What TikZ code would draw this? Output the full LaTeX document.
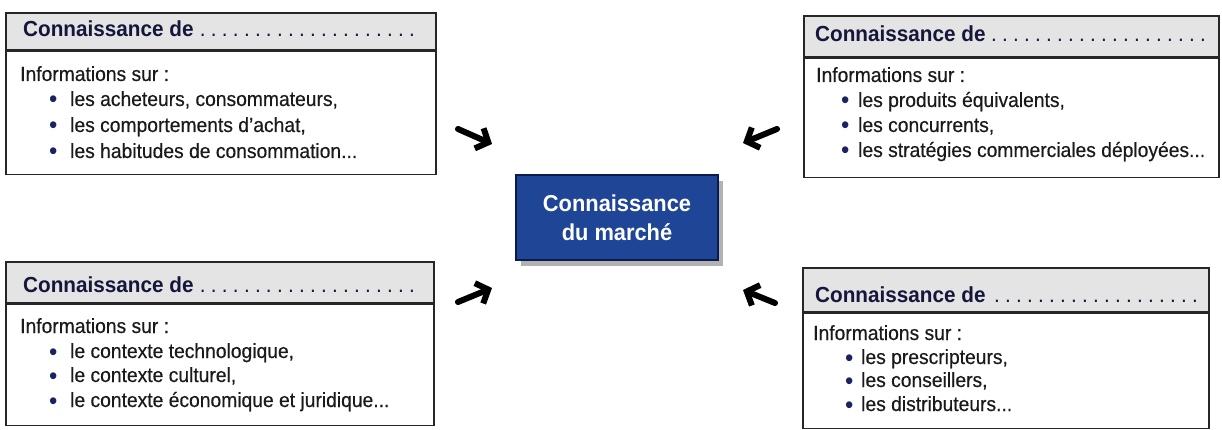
\documentclass[tikz,border=0pt]{standalone}
\usepackage{fontspec}
\setmainfont{Liberation Sans}[FakeStretch=0.95]
\newfontfamily\bodyfont{Liberation Sans}[FakeStretch=0.94, FakeBold=0.4]
\usetikzlibrary{arrows.meta,shadows}
\definecolor{navy}{HTML}{16163C}
\definecolor{bulnavy}{HTML}{1A2260}
\definecolor{boxblue}{HTML}{1F4597}
\definecolor{boxedge}{HTML}{0B1A4F}
\definecolor{bandgray}{HTML}{E4E4E4}
\definecolor{bodytext}{HTML}{1A1A1A}
\newcommand\mydotrow{\cleaders\hbox to 11pt{\hss\mdseries.\hss}\hfill}
\tikzset{
  hdrband/.style={draw=black!85, line width=1.6pt, fill=bandgray, inner sep=0pt, anchor=north west},
  bodybox/.style={draw=black!85, line width=1.6pt, fill=white, inner sep=0pt, anchor=north west},
  hdrtext/.style={anchor=base west, inner sep=0pt, font=\fontsize{21.8}{24}\selectfont\bfseries, text=navy},
  infotext/.style={anchor=base west, inner sep=0pt, font=\bodyfont\fontsize{20.5}{23}\selectfont, text=bodytext},
  bul/.style={anchor=base west, inner sep=0pt, text height=7pt, text depth=0pt, font=\fontsize{25}{23}\selectfont, text=bulnavy},
  arr/.style={line width=6pt, line cap=round, -{Straight Barb[length=10pt,width=22pt]}},
  centre/.style={draw=boxedge, line width=1.4pt, fill=boxblue, minimum width=202pt, minimum height=85pt,
    text=white, align=center, font=\fontsize{23}{29}\selectfont\bfseries,
    drop shadow={shadow xshift=5pt, shadow yshift=-6pt, fill=black, opacity=0.3}}
}
\newcommand\bdot{\raisebox{-2pt}{•}}
\begin{document}
\begin{tikzpicture}[x=1pt,y=-1pt]
\useasboundingbox[fill=white] (0,0) rectangle (1222,430);

% top-left
\node[hdrband, minimum width=430pt, minimum height=37pt] (tlh) at (5,12) {};
\node[bodybox, minimum width=430pt, minimum height=123pt] (tlb) at (tlh.south west) {};
\node[hdrtext] (tlt) at (23,37) {\hbox to 397pt{Connaissance de\hspace{1pt}\mydotrow}};
\node[infotext] (tli) at (20,81) {Informations sur :};
\node[bul] (tlb1) at (49,106) {\bdot};
\node[infotext] (tll1) at (70,106) {les acheteurs, consommateurs,};
\node[bul] (tlb2) at (49,132) {\bdot};
\node[infotext] (tll2) at (70,132) {les comportements d’achat,};
\node[bul] (tlb3) at (49,158) {\bdot};
\node[infotext] (tll3) at (70,158) {les habitudes de consommation...};

% top-right
\node[hdrband, minimum width=415pt, minimum height=41pt] (trh) at (803,15) {};
\node[bodybox, minimum width=415pt, minimum height=119pt] (trb) at (trh.south west) {};
\node[hdrtext] (trt) at (815,42) {\hbox to 395pt{Connaissance de\hspace{1pt}\mydotrow}};
\node[infotext] (tri) at (816,82) {Informations sur :};
\node[bul] (trb1) at (841,107) {\bdot};
\node[infotext] (trl1) at (858,107) {les produits équivalents,};
\node[bul] (trb2) at (841,132) {\bdot};
\node[infotext] (trl2) at (858,132) {les concurrents,};
\node[bul] (trb3) at (841,157) {\bdot};
\node[infotext] (trl3) at (858,157) {les stratégies commerciales déployées...};

% bottom-left
\node[hdrband, minimum width=428pt, minimum height=41pt] (blh) at (5,261) {};
\node[bodybox, minimum width=428pt, minimum height=121pt] (blb) at (blh.south west) {};
\node[hdrtext] (blt) at (23,292) {\hbox to 397pt{Connaissance de\hspace{1pt}\mydotrow}};
\node[infotext] (bli) at (20,333) {Informations sur :};
\node[bul] (blb1) at (49,358) {\bdot};
\node[infotext] (bll1) at (70,358) {le contexte technologique,};
\node[bul] (blb2) at (49,382) {\bdot};
\node[infotext] (bll2) at (70,382) {le contexte culturel,};
\node[bul] (blb3) at (49,407) {\bdot};
\node[infotext] (bll3) at (70,407) {le contexte économique et juridique...};

% bottom-right
\node[hdrband, minimum width=406pt, minimum height=44pt] (brh) at (802,267) {};
\node[bodybox, minimum width=406pt, minimum height=115pt] (brb) at (brh.south west) {};
\node[hdrtext] (brt) at (815,302) {\hbox to 390pt{Connaissance de\hspace{1pt}\mydotrow}};
\node[infotext] (bri) at (813,340) {Informations sur :};
\node[bul] (brb1) at (845,364) {\bdot};
\node[infotext] (brl1) at (861,364) {les prescripteurs,};
\node[bul] (brb2) at (845,387) {\bdot};
\node[infotext] (brl2) at (861,387) {les conseillers,};
\node[bul] (brb3) at (845,411) {\bdot};
\node[infotext] (brl3) at (861,411) {les distributeurs...};

% centre
\node[centre] (cm) at (617,217.5) {Connaissance\\du marché};

% arrows
\coordinate (a1s) at (458,129); \coordinate (a1e) at (492,144);
\coordinate (a2s) at (777,129); \coordinate (a2e) at (743,143);
\coordinate (a3s) at (458,302); \coordinate (a3e) at (492,288);
\coordinate (a4s) at (775,303); \coordinate (a4e) at (743,290);
\draw[arr] (a1s) -- (a1e);
\draw[arr] (a2s) -- (a2e);
\draw[arr] (a3s) -- (a3e);
\draw[arr] (a4s) -- (a4e);
\end{tikzpicture}
\end{document}
